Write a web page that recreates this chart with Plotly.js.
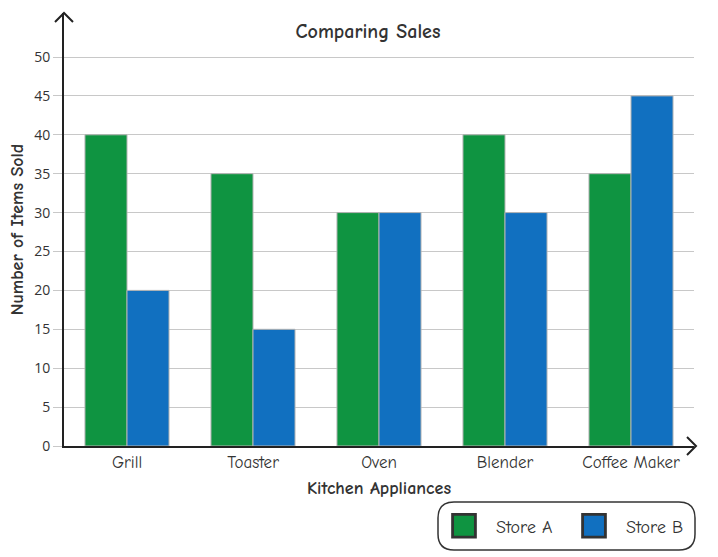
<!DOCTYPE html>
<html>
<head>
<meta charset="utf-8">
<script src="https://cdn.plot.ly/plotly-3.0.1.min.js"></script>
<style>
  html, body { margin: 0; padding: 0; background: #fff; }
  #chart { width: 718px; height: 557px; }
</style>
</head>
<body>
<div id="chart"></div>
<script>
// chart data
const appliances = ['Grill', 'Toaster', 'Oven', 'Blender', 'Coffee Maker'];
const storeA = [40, 35, 30, 40, 35];
const storeB = [20, 15, 30, 30, 45];
const yTicks = [0, 5, 10, 15, 20, 25, 30, 35, 40, 45, 50];

const comic = '"Comic Sans MS", "Comic Neue", Lato, sans-serif';
const plain = '"Open Sans", "Noto Sans", sans-serif';

// plot box in pixels (used for the arrows / legend frame only)
const L = 64, R = 694, T = 13, B = 446;
const px = x => (x - L) / (R - L);
const py = y => (B - y) / (B - T);

const traces = [
  {
    type: 'bar', name: 'Store A', x: appliances, y: storeA,
    marker: { color: '#0f9441', line: { color: '#b4b4b4', width: 1 } },
  },
  {
    type: 'bar', name: 'Store B', x: appliances, y: storeB,
    marker: { color: '#1170c0', line: { color: '#b4b4b4', width: 1 } },
  },
];

// rounded frame around the legend
const bx0 = px(438), bx1 = px(695), by0 = py(550), by1 = py(502);
const rx = 16 / (R - L), ry = 16 / (B - T);
const framePath = 'M' + (bx0 + rx) + ',' + by1 +
  ' L' + (bx1 - rx) + ',' + by1 +
  ' Q' + bx1 + ',' + by1 + ' ' + bx1 + ',' + (by1 - ry) +
  ' L' + bx1 + ',' + (by0 + ry) +
  ' Q' + bx1 + ',' + by0 + ' ' + (bx1 - rx) + ',' + by0 +
  ' L' + (bx0 + rx) + ',' + by0 +
  ' Q' + bx0 + ',' + by0 + ' ' + bx0 + ',' + (by0 + ry) +
  ' L' + bx0 + ',' + (by1 - ry) +
  ' Q' + bx0 + ',' + by1 + ' ' + (bx0 + rx) + ',' + by1 + ' Z';

const layout = {
  width: 718,
  height: 557,
  margin: { l: L, r: 718 - R, t: T, b: 557 - B, autoexpand: false },
  paper_bgcolor: '#fff',
  plot_bgcolor: '#fff',
  barmode: 'group',
  bargap: 0.333,
  bargroupgap: 0,
  title: {
    text: '<b>Comparing Sales</b>',
    font: { family: comic, size: 20, color: '#333' },
    xref: 'paper', x: px(368), xanchor: 'center',
    yref: 'container', y: 1 - 31 / 557, yanchor: 'middle',
  },
  xaxis: {
    showline: true, linecolor: '#222', linewidth: 2,
    showgrid: false, ticks: '', zeroline: false,
    tickfont: { family: comic, size: 17, color: '#333' },
    title: {
      text: '<b>Kitchen Appliances</b>',
      font: { family: comic, size: 18, color: '#333' },
      standoff: 10,
    },
  },
  yaxis: {
    range: [0, (B - T) / 7.78],
    tickvals: yTicks,
    showline: true, linecolor: '#222', linewidth: 2,
    showgrid: true, gridcolor: '#c8c8c8', gridwidth: 1,
    ticks: 'outside', ticklen: 9, tickcolor: '#c8c8c8', tickwidth: 1,
    zeroline: false,
    tickfont: { family: plain, size: 14, color: '#333' },
    title: {
      text: '<b>Number of Items Sold</b>',
      font: { family: comic, size: 18, color: '#333' },
      standoff: 6,
    },
  },
  showlegend: true,
  legend: {
    orientation: 'h',
    x: px(456), xanchor: 'left',
    y: py(526), yanchor: 'middle',
    bgcolor: 'rgba(0,0,0,0)',
    font: { family: comic, size: 18, color: '#333' },
    entrywidth: 85, entrywidthmode: 'pixels',
  },
  shapes: [
    // y axis arrow head
    {
      type: 'path', xref: 'paper', yref: 'paper',
      path: 'M' + px(55) + ',' + py(22) + ' L' + px(64) + ',' + py(13) + ' L' + px(73) + ',' + py(22),
      line: { color: '#222', width: 2 },
    },
    // x axis arrow head
    {
      type: 'path', xref: 'paper', yref: 'paper',
      path: 'M' + px(687) + ',' + py(437) + ' L' + px(696) + ',' + py(446) + ' L' + px(687) + ',' + py(455),
      line: { color: '#222', width: 2 },
    },
    {
      type: 'path', xref: 'paper', yref: 'paper', path: framePath,
      line: { color: '#333', width: 1.5 },
    },
  ],
};

Plotly.newPlot('chart', traces, layout, { staticPlot: true }).then(() => {
  // bigger legend swatches, like the reference
  document.querySelectorAll('.legend .scrollbox').forEach(s => s.removeAttribute('clip-path'));
  document.querySelectorAll('.legendpoints path').forEach(p => {
    p.setAttribute('transform', 'translate(8,0) scale(1.9)');
    p.style.stroke = '#333';
    p.style.strokeWidth = '1.5px';
  });
});
</script>
</body>
</html>
